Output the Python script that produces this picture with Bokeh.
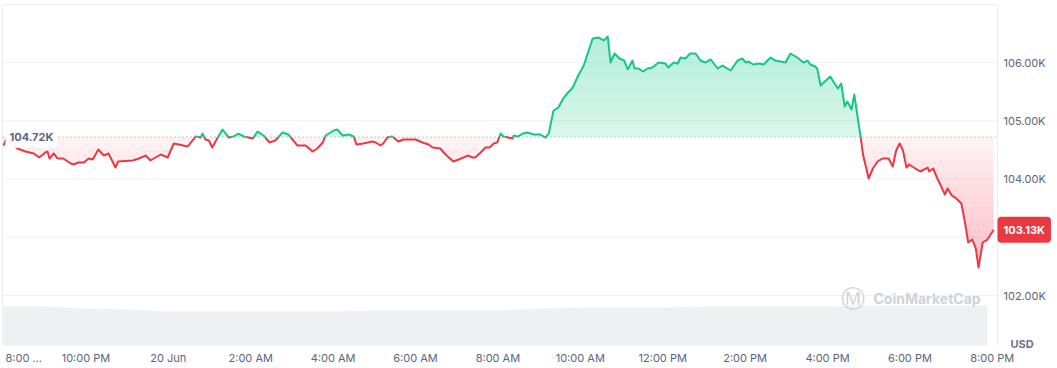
import numpy as np
from bokeh.plotting import figure
from bokeh.models import Range1d, Label
from bokeh.core.properties import value
from bokeh.embed import file_html
from bokeh.resources import INLINE

# ---- data (minutes after 19 Jun 8:00 PM, BTC price in USD) ----
minutes = [0, 3, 10, 20, 32, 44, 52, 61, 64, 67, 73, 79, 87, 98, 102, 109, 117, 124, 130, 138,
           146, 153, 163, 167, 188, 197, 207, 214, 229, 239, 248, 255, 268, 280, 287, 290, 294,
           299, 304, 312, 319, 328, 335, 342, 350, 363, 370, 379, 387, 396, 406, 415, 428, 440,
           450, 457, 465, 469, 481, 486, 494, 503, 510, 514, 524, 537, 542, 549, 553, 559, 566,
           575, 583, 600, 610, 619, 625, 636, 641, 647, 655, 663, 676, 683, 687, 695, 702, 708,
           714, 719, 724, 728, 735, 741, 743, 749, 756, 763, 772, 782, 789, 794, 801, 808, 816,
           821, 829, 837, 845, 858, 867, 874, 880, 884, 890, 897, 904, 909, 916, 919, 925, 931,
           938, 945, 954, 964, 968, 976, 982, 986, 993, 1000, 1008, 1015, 1022, 1030, 1040, 1047,
           1059, 1069, 1076, 1081, 1085, 1092, 1100, 1107, 1117, 1124, 1132, 1139, 1146, 1156,
           1165, 1171, 1175, 1182, 1185, 1190, 1204, 1215, 1220, 1225, 1229, 1235, 1239, 1244,
           1248, 1252, 1260, 1266, 1273, 1280, 1289, 1295, 1300, 1305, 1310, 1315, 1319, 1328,
           1335, 1346, 1348, 1354, 1360, 1365, 1371, 1375, 1381, 1386, 1395, 1400, 1405, 1411,
           1416, 1420, 1426, 1433, 1442]
prices = [104575, 104661, 104627, 104524, 104472, 104438, 104369, 104455, 104472, 104352, 104438,
          104352, 104352, 104266, 104249, 104283, 104283, 104352, 104335, 104507, 104403, 104438,
          104197, 104301, 104318, 104352, 104403, 104318, 104421, 104369, 104610, 104592, 104558,
          104730, 104712, 104781, 104678, 104661, 104541, 104712, 104850, 104712, 104730, 104781,
          104730, 104695, 104815, 104747, 104627, 104661, 104798, 104764, 104575, 104575, 104472,
          104524, 104627, 104747, 104833, 104850, 104747, 104764, 104730, 104592, 104610, 104644,
          104627, 104575, 104610, 104712, 104730, 104644, 104678, 104678, 104627, 104592, 104541,
          104524, 104455, 104386, 104301, 104335, 104403, 104369, 104369, 104455, 104541, 104541,
          104610, 104627, 104781, 104730, 104712, 104695, 104747, 104730, 104781, 104798, 104764,
          104764, 104712, 104781, 105176, 105227, 105399, 105468, 105571, 105777, 105948, 106412,
          106429, 106378, 106446, 106000, 106155, 106069, 106034, 105880, 106034, 105897, 105897,
          105845, 105897, 105914, 106000, 105983, 105914, 106000, 105983, 106086, 106069, 106155,
          106155, 106034, 106000, 106052, 105897, 105948, 105863, 106034, 106069, 106000, 106017,
          105966, 105983, 105966, 106086, 106034, 106017, 106000, 106155, 106086, 106000, 106034,
          105966, 105931, 105897, 105605, 105760, 105554, 105640, 105245, 105330, 105193, 105451,
          105056, 104747, 104403, 104009, 104180, 104301, 104352, 104352, 104215, 104489, 104610,
          104489, 104197, 104249, 104180, 104129, 104197, 104129, 104180, 104009, 103888, 103734,
          103837, 103717, 103682, 103579, 103270, 102910, 102961, 102807, 102481, 102910, 102961,
          103130]
open_price = 104720
last_price = 103130
vol_minutes = [0, 60, 120, 180, 240, 300, 360, 420, 480, 540, 600, 660, 720, 780, 840, 900, 960,
               1020, 1080, 1140, 1200, 1260, 1320, 1380, 1433]
volume_b = [39, 39, 37, 36, 34, 34, 34, 34, 34, 35, 35, 35, 35, 37, 38, 38, 38, 39, 39, 39, 39,
            40, 40, 40, 40]
price_ticks = [102000, 103000, 104000, 105000, 106000]
price_labels = ["102.00K", "", "104.00K", "105.00K", "106.00K"]
time_ticks = [0, 120, 240, 360, 480, 600, 720, 840, 960, 1080, 1200, 1320, 1440]
time_labels = ["8:00 ...", "10:00 PM", "20 Jun", "2:00 AM", "4:00 AM", "6:00 AM", "8:00 AM",
               "10:00 AM", "12:00 PM", "2:00 PM", "4:00 PM", "6:00 PM", "8:00 PM"]

GREEN = "#16c784"
RED = "#ea3943"
TXT = "#58667e"
FONT = "Inter"

# ---- layout: canvas and plotting window (pixels) ----
W, H = 1057, 368
FL, FR, FT, FB = 2, 997, 4, 345
X0, X1 = -1.5, 1447.6          # visible time window
Y0, Y1 = 101142, 106996        # visible price window
mx = (X1 - X0) / (FR - FL)
my = (Y1 - Y0) / (FB - FT)


def px_x(px):
    return X0 + (px - FL) * mx


def px_y(py):
    return Y0 + (FB - py) * my


# ---- insert baseline crossings ----
t = np.array(minutes, float)
y = np.array(prices, float)
xs, ys = [t[0]], [y[0]]
for i in range(1, len(t)):
    a, b = y[i - 1] - open_price, y[i] - open_price
    if a * b < 0:
        f = a / (a - b)
        xs.append(t[i - 1] + f * (t[i] - t[i - 1]))
        ys.append(open_price)
    xs.append(t[i])
    ys.append(y[i])
xs = np.array(xs)
ys = np.array(ys)

p = figure(width=W, height=H, output_backend="svg", toolbar_location=None,
           x_range=Range1d(px_x(0), px_x(W)), y_range=Range1d(px_y(H), px_y(0)),
           x_axis_location=None, y_axis_location=None,
           min_border=0, min_border_left=0, min_border_right=0, min_border_top=0,
           min_border_bottom=0, background_fill_color="white", border_fill_color="white",
           outline_line_color=None)
p.grid.visible = False
p.extra_y_ranges = {"vol": Range1d(-(H - FB), FB)}

# grid lines
p.segment(x0=[X0] * len(price_ticks), y0=price_ticks, x1=[X1] * len(price_ticks),
          y1=price_ticks, line_color="#eff2f5", line_width=1)

# volume
p.varea(x=vol_minutes, y1=0, y2=volume_b, y_range_name="vol", fill_color="#eef0f3")

# window border
p.line(x=[X0, X0, X1, X1], y=[Y0, Y1, Y1, Y0], line_color="#e9ecf0", line_width=1)

# fills: base layer + gradient layers
p.varea(x=xs, y1=open_price, y2=np.maximum(ys, open_price), fill_color=GREEN, fill_alpha=0.17)
p.varea(x=xs, y1=np.minimum(ys, open_price), y2=open_price, fill_color=RED, fill_alpha=0.07)
for k in range(1, 9):
    L = open_price + 200 * k
    p.varea(x=xs, y1=L, y2=np.maximum(ys, L), fill_color=GREEN, fill_alpha=0.021)
for k in range(1, 12):
    L = open_price - 200 * k
    p.varea(x=xs, y1=np.minimum(ys, L), y2=L, fill_color=RED, fill_alpha=0.025)

# dotted open-price line
p.segment(x0=[X0], y0=[open_price], x1=[X1], y1=[open_price], line_color="#8f96a3",
          line_width=1, line_dash="1 3")

# price line
p.line(xs, np.where(ys >= open_price, ys, np.nan), line_color=GREEN, line_width=2,
       line_join="round")
p.line(xs, np.where(ys <= open_price, ys, np.nan), line_color=RED, line_width=2,
       line_join="round")

# time axis labels
lab_y = px_y(357)
p.text(x=[px_x(5)], y=[lab_y], text=[time_labels[0]], text_align="left",
       text_baseline="middle", text_font=value(FONT), text_font_size="11px", text_color=TXT)
p.text(x=time_ticks[1:], y=[lab_y] * (len(time_ticks) - 1), text=time_labels[1:],
       text_align="center", text_baseline="middle", text_font=value(FONT),
       text_font_size="11px", text_color=TXT)

# price axis labels
p.text(x=[px_x(1003)] * len(price_ticks), y=price_ticks, text=price_labels, text_align="left",
       text_baseline="middle", text_font=value(FONT), text_font_size="11px", text_color=TXT)
p.text(x=[px_x(1010)], y=[px_y(343)], text=["USD"], text_align="left", text_baseline="middle",
       text_font=value(FONT), text_font_size="11px", text_font_style="bold",
       text_color="#6b778c")

# watermark
p.text(x=[px_x(852)], y=[px_y(298)], text=["\u24c2"], text_align="center",
       text_baseline="middle", text_font=value("DejaVu Sans"), text_font_size="24px",
       text_color="#cdd2da")
p.text(x=[px_x(873)], y=[px_y(298)], text=["CoinMarketCap"], text_align="left",
       text_baseline="middle", text_font=value(FONT), text_font_size="14px",
       text_font_style="bold", text_color="#cdd2da")

# price tags
p.add_layout(Label(x=X0, y=open_price, x_offset=3, text="104.72K", text_align="left",
                   text_baseline="middle", text_font=FONT, text_font_size="11px",
                   text_font_style="bold", text_color=TXT, background_fill_color="white",
                   background_fill_alpha=0.95, padding=4, border_radius=4))
p.add_layout(Label(x=X1, y=last_price, x_offset=0, text="103.13K", text_align="left",
                   text_baseline="middle", text_font=FONT, text_font_size="11px",
                   text_font_style="bold", text_color="white", background_fill_color=RED,
                   padding=6, border_radius=4))

open("out.html", "w").write(file_html(p, INLINE))
